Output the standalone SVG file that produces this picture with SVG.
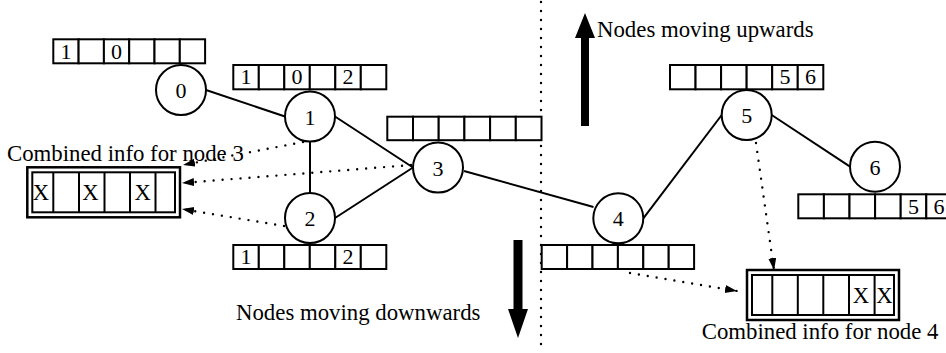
<svg xmlns="http://www.w3.org/2000/svg" width="946" height="353" viewBox="0 0 946 353">
  <style>
    text { font-family: "Liberation Serif", "Times New Roman", serif; fill: #000; }
    .lbl { font-size: 22.8px; }
    .num { font-size: 22px; text-anchor: middle; }
    .cell { fill: #fff; stroke: #000; stroke-width: 2; }
    .node { fill: #fff; stroke: #000; stroke-width: 2; }
    .edge { stroke: #000; stroke-width: 2; fill: none; }
    .dot { stroke: #000; stroke-width: 2.4; stroke-dasharray: 0 9; stroke-linecap: round; fill: none; }
    .frame { fill: #fff; stroke: #000; stroke-width: 2.5; }
    .div { stroke: #000; stroke-width: 2; }
  </style>
  <defs>
    <marker id="tip" markerUnits="userSpaceOnUse" markerWidth="14" markerHeight="10" refX="12" refY="4" orient="auto">
      <path d="M0,0 L12,4 L0,8 Z" fill="#000"/>
    </marker>
  </defs>

  <!-- boundary between upward and downward moving nodes -->
  <line class="dot" x1="541" y1="2" x2="541" y2="353"/>

  <!-- direction arrows -->
  <g id="arrow-up">
    <rect x="581" y="36" width="8" height="90" fill="#000"/>
    <polygon points="575,38 595,38 585,13" fill="#000"/>
    <text class="lbl" x="597" y="36.5">Nodes moving upwards</text>
  </g>
  <g id="arrow-down">
    <rect x="513.5" y="240" width="9" height="71" fill="#000"/>
    <polygon points="508,309 528,309 518,338" fill="#000"/>
    <text class="lbl" x="236" y="320">Nodes moving downwards</text>
  </g>

  <!-- tree edges and info flows -->
  <g id="connectors">
    <line class="edge" x1="206" y1="90" x2="285" y2="116.5"/>
    <line class="edge" x1="310" y1="141.5" x2="310" y2="193"/>
    <line class="edge" x1="335" y1="116.5" x2="413" y2="167.5"/>
    <line class="edge" x1="335" y1="218" x2="413" y2="167.5"/>
    <line class="edge" x1="464" y1="171" x2="593.5" y2="207"/>
    <line class="edge" x1="643.3" y1="218.3" x2="721.7" y2="115"/>
    <line class="edge" x1="771.7" y1="115" x2="850" y2="166.7"/>

    <line class="dot" x1="303" y1="142" x2="183" y2="165" marker-end="url(#tip)"/>
    <line class="dot" x1="411" y1="165" x2="182" y2="183" marker-end="url(#tip)"/>
    <line class="dot" x1="284" y1="226" x2="182" y2="209" marker-end="url(#tip)"/>
    <line class="dot" x1="630" y1="273" x2="737" y2="291" marker-end="url(#tip)"/>
    <line class="dot" x1="756" y1="143" x2="774" y2="270" marker-end="url(#tip)"/>
  </g>

  <!-- node 0 -->
  <g id="node0">
    <g id="arr0">
      <rect class="cell" x="53.3" y="39.3" width="25.3" height="24"/>
      <rect class="cell" x="78.6" y="39.3" width="25.3" height="24"/>
      <rect class="cell" x="103.9" y="39.3" width="25.3" height="24"/>
      <rect class="cell" x="129.2" y="39.3" width="25.3" height="24"/>
      <rect class="cell" x="154.5" y="39.3" width="25.3" height="24"/>
      <rect class="cell" x="179.8" y="39.3" width="25.3" height="24"/>
      <text class="num" x="66" y="58.5">1</text>
      <text class="num" x="116.6" y="58.5">0</text>
    </g>
    <circle class="node" cx="181" cy="90" r="25"/>
    <text class="num" x="181" y="98">0</text>
  </g>

  <!-- node 1 -->
  <g id="node1">
    <g id="arr1">
      <rect class="cell" x="233.3" y="65" width="25.5" height="24.3"/>
      <rect class="cell" x="258.8" y="65" width="25.5" height="24.3"/>
      <rect class="cell" x="284.3" y="65" width="25.5" height="24.3"/>
      <rect class="cell" x="309.8" y="65" width="25.5" height="24.3"/>
      <rect class="cell" x="335.3" y="65" width="25.5" height="24.3"/>
      <rect class="cell" x="360.8" y="65" width="25.5" height="24.3"/>
      <text class="num" x="246" y="84">1</text>
      <text class="num" x="297" y="84">0</text>
      <text class="num" x="348" y="84">2</text>
    </g>
    <circle class="node" cx="310" cy="116.5" r="25"/>
    <text class="num" x="310" y="124.5">1</text>
  </g>

  <!-- node 2 -->
  <g id="node2">
    <circle class="node" cx="310" cy="218" r="25"/>
    <text class="num" x="310" y="226">2</text>
    <g id="arr2">
      <rect class="cell" x="233.3" y="245" width="25.5" height="24"/>
      <rect class="cell" x="258.8" y="245" width="25.5" height="24"/>
      <rect class="cell" x="284.3" y="245" width="25.5" height="24"/>
      <rect class="cell" x="309.8" y="245" width="25.5" height="24"/>
      <rect class="cell" x="335.3" y="245" width="25.5" height="24"/>
      <rect class="cell" x="360.8" y="245" width="25.5" height="24"/>
      <text class="num" x="246" y="264">1</text>
      <text class="num" x="348" y="264">2</text>
    </g>
  </g>

  <!-- node 3 -->
  <g id="node3">
    <g id="arr3">
      <rect class="cell" x="387.3" y="116.7" width="25.7" height="23.5"/>
      <rect class="cell" x="413" y="116.7" width="25.7" height="23.5"/>
      <rect class="cell" x="438.7" y="116.7" width="25.7" height="23.5"/>
      <rect class="cell" x="464.4" y="116.7" width="25.7" height="23.5"/>
      <rect class="cell" x="490.1" y="116.7" width="25.7" height="23.5"/>
      <rect class="cell" x="515.8" y="116.7" width="25.7" height="23.5"/>
    </g>
    <circle class="node" cx="438" cy="167.5" r="25"/>
    <text class="num" x="438" y="175.5">3</text>
  </g>

  <!-- node 4 -->
  <g id="node4">
    <circle class="node" cx="618.3" cy="218.3" r="25"/>
    <text class="num" x="618.3" y="226.3">4</text>
    <g id="arr4">
      <rect class="cell" x="541.7" y="245" width="25.4" height="24"/>
      <rect class="cell" x="567.1" y="245" width="25.4" height="24"/>
      <rect class="cell" x="592.5" y="245" width="25.4" height="24"/>
      <rect class="cell" x="617.9" y="245" width="25.4" height="24"/>
      <rect class="cell" x="643.3" y="245" width="25.4" height="24"/>
      <rect class="cell" x="668.7" y="245" width="25.4" height="24"/>
    </g>
  </g>

  <!-- node 5 -->
  <g id="node5">
    <g id="arr5">
      <rect class="cell" x="670" y="65" width="25.55" height="24.3"/>
      <rect class="cell" x="695.55" y="65" width="25.55" height="24.3"/>
      <rect class="cell" x="721.1" y="65" width="25.55" height="24.3"/>
      <rect class="cell" x="746.65" y="65" width="25.55" height="24.3"/>
      <rect class="cell" x="772.2" y="65" width="25.55" height="24.3"/>
      <rect class="cell" x="797.75" y="65" width="25.55" height="24.3"/>
      <text class="num" x="785" y="84">5</text>
      <text class="num" x="810.5" y="84">6</text>
    </g>
    <circle class="node" cx="746.7" cy="115" r="25"/>
    <text class="num" x="746.7" y="123">5</text>
  </g>

  <!-- node 6 -->
  <g id="node6">
    <circle class="node" cx="875" cy="166.7" r="25"/>
    <text class="num" x="875" y="174.7">6</text>
    <g id="arr6">
      <rect class="cell" x="798.3" y="194.3" width="25.6" height="24"/>
      <rect class="cell" x="823.9" y="194.3" width="25.6" height="24"/>
      <rect class="cell" x="849.5" y="194.3" width="25.6" height="24"/>
      <rect class="cell" x="875.1" y="194.3" width="25.6" height="24"/>
      <rect class="cell" x="900.7" y="194.3" width="25.6" height="24"/>
      <rect class="cell" x="926.3" y="194.3" width="25.6" height="24"/>
      <text class="num" x="913.5" y="213.5">5</text>
      <text class="num" x="939" y="213.5">6</text>
    </g>
  </g>

  <!-- combined info, node 3 -->
  <g id="combined3">
    <text class="lbl" x="7" y="160.7">Combined info for node 3</text>
    <rect class="frame" x="27.3" y="167.3" width="152.7" height="50"/>
    <rect class="cell" x="32.3" y="172.3" width="142.7" height="40"/>
    <line class="div" x1="53.3" y1="172.3" x2="53.3" y2="212.3"/>
    <line class="div" x1="79" y1="172.3" x2="79" y2="212.3"/>
    <line class="div" x1="104.5" y1="172.3" x2="104.5" y2="212.3"/>
    <line class="div" x1="130" y1="172.3" x2="130" y2="212.3"/>
    <line class="div" x1="155.5" y1="172.3" x2="155.5" y2="212.3"/>
    <text class="num" x="41" y="200" style="font-size:22.6px">X</text>
    <text class="num" x="90.5" y="200" style="font-size:22.6px">X</text>
    <text class="num" x="142.6" y="200" style="font-size:22.6px">X</text>
  </g>

  <!-- combined info, node 4 -->
  <g id="combined4">
    <rect class="frame" x="747" y="270" width="152" height="50"/>
    <rect class="cell" x="752" y="275" width="142" height="40"/>
    <line class="div" x1="772.3" y1="275" x2="772.3" y2="315"/>
    <line class="div" x1="797.8" y1="275" x2="797.8" y2="315"/>
    <line class="div" x1="823.3" y1="275" x2="823.3" y2="315"/>
    <line class="div" x1="849" y1="275" x2="849" y2="315"/>
    <line class="div" x1="874.6" y1="275" x2="874.6" y2="315"/>
    <text class="num" x="861" y="302.7" style="font-size:22.6px">X</text>
    <text class="num" x="884.5" y="302.7" style="font-size:22.6px">X</text>
    <text class="lbl" x="701.7" y="339">Combined info for node 4</text>
  </g>
</svg>
